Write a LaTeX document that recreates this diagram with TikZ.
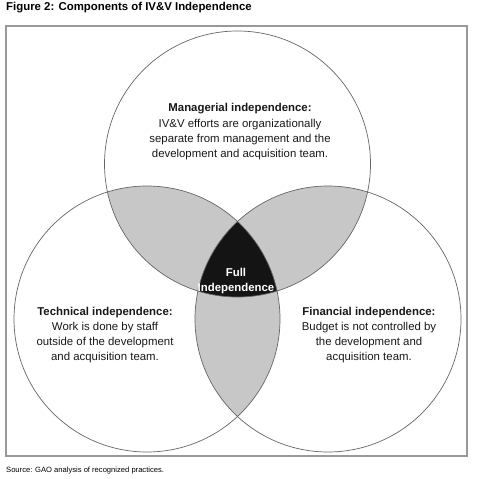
\documentclass[tikz,border=0pt]{standalone}
\usepackage{fontspec}
\setmainfont{Liberation Sans}
\begin{document}
\begin{tikzpicture}[x=1pt,y=-1pt,
  ring/.style={draw=black!60,line width=0.7pt},
  frame/.style={draw=black!40,line width=1.2pt},
  lens/.style={fill=black!22},
  core/.style={fill=black!92},
  label/.style={align=center,font=\fontsize{11.4}{15.3}\selectfont,text=black!90,inner sep=0pt},
  fulltext/.style={align=center,font=\bfseries\fontsize{11.4}{15}\selectfont,text=white,inner sep=0pt},
  title/.style={anchor=west,font=\bfseries\fontsize{11.4}{13}\selectfont,inner sep=0pt},
  source/.style={anchor=west,font=\fontsize{7.6}{9}\selectfont,inner sep=0pt}]
\useasboundingbox (0,0) rectangle (477,479);
\fill[white] (0,0) rectangle (477,479);
\coordinate (T) at (237.5,164);
\coordinate (L) at (147,319);
\coordinate (R) at (328,319);
\def\rad{133pt}
% pairwise overlaps
\begin{scope}\clip (T) circle[radius=\rad]; \fill[lens] (L) circle[radius=\rad];\end{scope}
\begin{scope}\clip (T) circle[radius=\rad]; \fill[lens] (R) circle[radius=\rad];\end{scope}
\begin{scope}\clip (L) circle[radius=\rad]; \fill[lens] (R) circle[radius=\rad];\end{scope}
% triple overlap
\begin{scope}\clip (T) circle[radius=\rad]; \clip (L) circle[radius=\rad]; \fill[core] (R) circle[radius=\rad];\end{scope}
\draw[ring] (T) circle[radius=\rad];
\draw[ring] (L) circle[radius=\rad];
\draw[ring] (R) circle[radius=\rad];
\draw[frame] (6,26) rectangle (467,456);
\node[title] (ttl) at (6,8) {Figure 2: Components of IV\&V Independence};
\node[source] (src) at (6,471) {Source: GAO analysis of recognized practices.};
\node[label] (mgr) at (240,132) {\textbf{Managerial independence:}\\IV\&V efforts are organizationally\\separate from management and the\\development and acquisition team.};
\node[label] (tech) at (105,335) {\textbf{Technical independence:}\\Work is done by staff\\outside of the development\\and acquisition team.};
\node[label] (fin) at (369,335) {\textbf{Financial independence:}\\Budget is not controlled by\\the development and\\acquisition team.};
\node[fulltext] (full) at (236,281.5) {Full\\Independence};
\end{tikzpicture}
\end{document}
